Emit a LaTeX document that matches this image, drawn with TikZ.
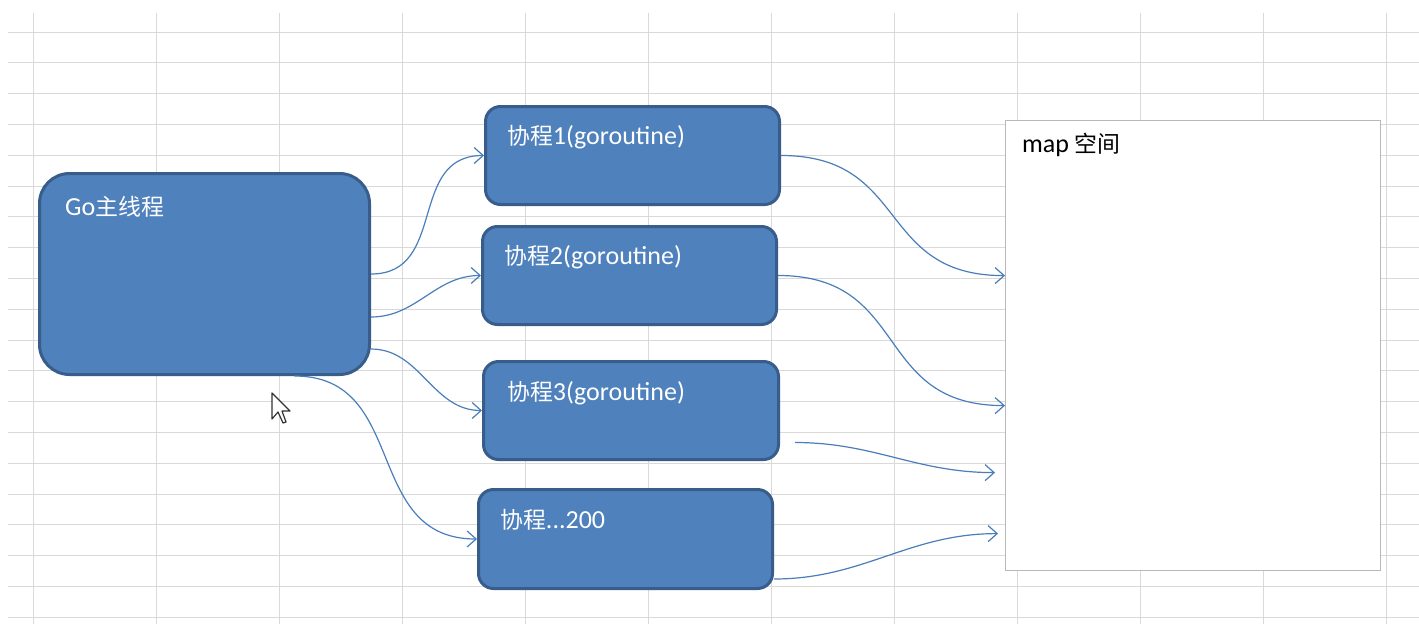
\documentclass[tikz,border=0pt]{standalone}
\usepackage{fontspec}
\setmainfont{Carlito}
\newfontfamily\cjk{Noto Sans CJK SC}[Scale=0.88]
\usetikzlibrary{arrows.meta,calc}
\definecolor{boxfill}{HTML}{4F81BD}
\definecolor{boxborder}{HTML}{385D8A}
\definecolor{connc}{HTML}{4A7EBB}
\definecolor{gridc}{HTML}{D9D9D9}
\definecolor{mapborder}{HTML}{B8B8B8}
\tikzset{
  gridline/.style={draw=gridc, line width=1pt},
  bluebox/.style={draw=boxborder, fill=boxfill, line width=3pt, rounded corners=15pt, anchor=north west, inner sep=0pt},
  boxtext/.style={anchor=west, text=white, inner sep=0pt, font=\fontsize{26}{31}\selectfont},
  maptext/.style={anchor=west, text=black, inner sep=0pt, font=\fontsize{26}{31}\selectfont},
  conn/.style={draw=connc, line width=1.2pt, -{Straight Barb[length=9pt,width=16pt]}},
}
\begin{document}
\begin{tikzpicture}[x=1pt,y=-1pt]
\useasboundingbox (0,0) rectangle (1419,624);
\fill[white] (0,0) rectangle (1419,624);
% spreadsheet grid
\foreach \i in {0,...,11} \draw[gridline] ({33+123*\i},13) -- ({33+123*\i},624);
\foreach \j in {0,...,19} \draw[gridline] (8,{32+30.8*\j}) -- (1419,{32+30.8*\j});
% boxes
\node[bluebox, rounded corners=30pt, minimum width=330pt, minimum height=201pt] (main) at (38,172) {};
\node[bluebox, minimum width=294pt, minimum height=98pt] (b1) at (484,105) {};
\node[bluebox, minimum width=294pt, minimum height=98pt] (b2) at (481,225) {};
\node[bluebox, minimum width=295pt, minimum height=98pt] (b3) at (482,360) {};
\node[bluebox, minimum width=294pt, minimum height=99pt] (b4) at (477,488) {};
\node[draw=mapborder, fill=white, line width=1.2pt, anchor=north west, inner sep=0pt, minimum width=375pt, minimum height=450pt] (map) at (1005,120) {};
% texts
\node[boxtext] (maint) at (65,207) {Go{\cjk 主线程}};
\node[boxtext] (b1t) at (507,137) {{\cjk 协程}1(goroutine)};
\node[boxtext] (b2t) at (504,257) {{\cjk 协程}2(goroutine)};
\node[boxtext] (b3t) at (507,393) {{\cjk 协程}3(goroutine)};
\node[boxtext] (b4t) at (500,520) {{\cjk 协程}...200};
\node[maptext] (mapt) at (1022,145) {map {\cjk 空间}};
% connectors
\draw[conn] (main.east) to[out=0,in=180,looseness=1.2] (b1.west);
\draw[conn] ([yshift=-43pt]main.east) to[out=0,in=180] (b2.west);
\draw[conn] ([yshift=-75pt]main.east) to[out=0,in=180] (b3.west);
\draw[conn] ([xshift=90pt]main.south) to[out=0,in=180,looseness=1.2] (b4.west);
\draw[conn] (b1.east) to[out=0,in=180,looseness=1.3] ([yshift=70pt]map.west);
\draw[conn] (b2.east) to[out=0,in=180,looseness=1.3] ([yshift=-60pt]map.west);
\draw[conn] ([xshift=15pt,yshift=-32pt]b3.east) to[out=0,in=180] ([xshift=-10pt,yshift=-127pt]map.west);
\draw[conn] ([yshift=-40pt]b4.east) to[out=0,in=180] ([xshift=-7pt,yshift=-188pt]map.west);
% mouse cursor
\draw[fill=white, draw=black!80, line width=1.2pt, line join=round] (272,393) -- ++(0,26) -- ++(6,-7) -- ++(5,11) -- ++(3,-1) -- ++(-4,-11) -- ++(8,0) -- cycle;
\end{tikzpicture}
\end{document}
